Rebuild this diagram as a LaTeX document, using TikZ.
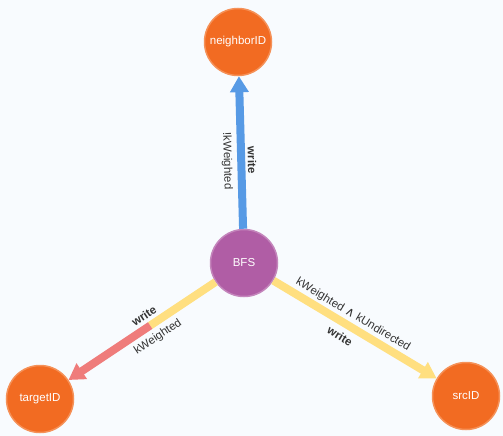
\documentclass[tikz,border=0pt]{standalone}
\usepackage{fontspec}
\setmainfont{Liberation Sans}
\newfontfamily\symfont{DejaVu Sans}
\usetikzlibrary{arrows.meta,calc}
\definecolor{bgc}{HTML}{F8FBFE}
\definecolor{orfill}{HTML}{F26B22}
\definecolor{orline}{HTML}{F59158}
\definecolor{pufill}{HTML}{B05DA5}
\definecolor{puline}{HTML}{C486BC}
\definecolor{bluee}{HTML}{579AE5}
\definecolor{yell}{HTML}{FFDF80}
\definecolor{redd}{HTML}{EF7C7B}
\definecolor{txt}{HTML}{333333}
\tikzset{
  gnode/.style={circle, minimum size=67pt, inner sep=0pt, line width=1.5pt,
    text=white, font=\fontsize{11.5}{13}\selectfont},
  orn/.style={gnode, fill=orfill, draw=orline},
  pun/.style={gnode, fill=pufill, draw=puline},
  edge/.style={line width=8pt},
  tip/.style={-{Triangle[length=16pt,width=18pt]}},
  elab/.style={text=txt, font=\fontsize{11.5}{13}\selectfont, inner sep=0pt},
  blab/.style={elab, font=\fontsize{11.5}{13}\selectfont\bfseries}
}
\begin{document}
\begin{tikzpicture}[x=1pt,y=-1pt]
\fill[bgc] (0,0) rectangle (503,436);
\useasboundingbox (0,0) rectangle (503,436);
\node[orn] (nb) at (238,42) {neighborID};
\node[pun] (bfs) at (244,263) {BFS};
\node[orn] (tg) at (40,399) {targetID};
\node[orn] (src) at (466,396) {srcID};
\coordinate (mid) at ($(bfs)!0.46!(tg)$);
% edges
\draw[edge, bluee, tip] (bfs) -- (nb);
\draw[edge, yell, tip] (bfs) -- (src);
\draw[edge, yell] (bfs) -- (mid);
\draw[edge, redd, tip] (mid) -- (tg);
% labels
\node[blab, rotate=-88.4] (l1) at (252,160) {write};
\node[elab, rotate=-88.4] (l2) at (227,161) {!kWeighted};
\node[blab, rotate=33.7] (l3) at (144,316) {write};
\node[elab, rotate=33.7] (l4) at (158,337) {kWeighted};
\node[elab, rotate=-30.9] (l5) at (353,315) {kWeighted {\symfont\fontsize{12.5}{13}\selectfont ∧} kUndirected};
\node[blab, rotate=-30.9] (l6) at (340,336) {write};
\end{tikzpicture}
\end{document}
